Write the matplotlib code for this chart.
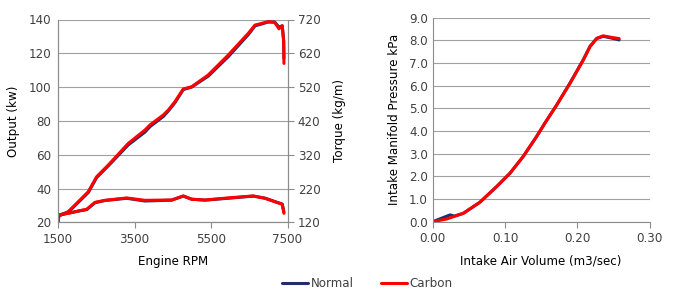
import matplotlib.pyplot as plt
import numpy as np

plt.rcParams['font.family'] = 'DejaVu Sans'
plt.rcParams['font.size'] = 8.6
plt.rcParams['text.color'] = '#404040'
plt.rcParams['xtick.color'] = '#404040'
plt.rcParams['ytick.color'] = '#404040'

# engine dyno data (left chart)
rpm = [1500, 1526, 1770, 2031, 2292, 2511, 2815, 3338, 3774, 3905, 4253, 4383, 4558,
       4775, 4995, 5429, 5952, 6474, 6650, 6997, 7164, 7277, 7363, 7400, 7407]
output_carbon = [20.8, 24.0, 26.3, 32.2, 38.1, 47.0, 53.9, 66.7, 74.6, 77.6, 83.5, 86.4, 91.4,
                 98.9, 100.2, 107.2, 119.0, 131.8, 136.7, 138.7, 138.3, 134.5, 136.3, 126.9, 114.0]
output_normal = [20.8, 23.8, 26.0, 31.8, 37.6, 46.5, 53.4, 65.8, 73.4, 76.6, 82.6, 85.8, 90.8,
                 98.5, 100.0, 106.5, 118.0, 131.0, 136.2, 138.5, 138.5, 135.5, 136.3, 127.5, 117.0]
torque_rpm = [1500, 1508, 1770, 2031, 2250, 2467, 2729, 3296, 3774, 4472, 4775, 4995,
              5343, 6040, 6605, 6911, 7217, 7363, 7407]
torque_carbon = [120, 141.5, 146.5, 153.5, 158.5, 179, 185, 192, 185, 186, 198, 188,
                 186, 193, 198, 191, 179, 173, 146.5]
torque_normal = [120, 142, 147, 153, 157.5, 178, 184.5, 191, 183, 185.5, 197.5, 188.5,
                 185.5, 192, 197.5, 191.5, 179.5, 174, 150]

# intake data (right chart)
air_carbon = [0.0, 0.0194, 0.0424, 0.0654, 0.0885, 0.107, 0.1253, 0.1438, 0.1553,
              0.1716, 0.19, 0.2084, 0.2177, 0.2269, 0.236, 0.2477, 0.258]
map_carbon = [0.0, 0.12, 0.37, 0.86, 1.55, 2.14, 2.88, 3.76, 4.35,
              5.15, 6.1, 7.13, 7.72, 8.09, 8.2, 8.13, 8.08]
air_normal = [0.0, 0.012, 0.024, 0.03, 0.0424, 0.0654, 0.0885, 0.107, 0.1253, 0.1438, 0.1553,
              0.1716, 0.19, 0.2084, 0.2177, 0.2269, 0.236, 0.2477, 0.258]
map_normal = [0.0, 0.15, 0.3, 0.25, 0.37, 0.86, 1.55, 2.14, 2.88, 3.76, 4.35,
              5.15, 6.12, 7.15, 7.74, 8.08, 8.18, 8.1, 8.02]

c_normal = '#1f2f6e'
c_carbon = '#ff0000'
c_grid = '#a0a0a0'
c_spine = '#8c8c8c'
lw = 2.2

fig = plt.figure(figsize=(6.8, 3.0), dpi=100)

# left chart
ax = fig.add_axes([58 / 680, 1 - 222.3 / 300, 229.5 / 680, 202.8 / 300])
ax.plot(rpm, output_normal, color=c_normal, lw=lw, solid_capstyle='round', solid_joinstyle='round')
ax.plot(rpm, output_carbon, color=c_carbon, lw=lw, solid_capstyle='round', solid_joinstyle='round')
ax.set_xlim(1500, 7500)
ax.set_ylim(20, 140)
ax.set_xticks([1500, 3500, 5500, 7500])
ax.set_yticks(np.arange(20, 141, 20))
ax.grid(axis='y', color=c_grid, lw=0.8)
ax.set_axisbelow(True)
ax.set_xlabel('Engine RPM', labelpad=7)
ax.set_ylabel('Output (kw)', labelpad=6)
ax.spines['top'].set_visible(False)
ax.tick_params(axis='x', length=4, color=c_spine, width=0.8)
ax.tick_params(axis='y', length=0, pad=5)

ax2 = ax.twinx()
ax2.plot(torque_rpm, torque_normal, color=c_normal, lw=lw, solid_capstyle='round', solid_joinstyle='round')
ax2.plot(torque_rpm, torque_carbon, color=c_carbon, lw=lw, solid_capstyle='round', solid_joinstyle='round')
ax2.set_ylim(120, 720)
ax2.set_yticks(np.arange(120, 721, 100))
ax2.set_ylabel('Torque (kg/m)', labelpad=9)
ax2.spines['top'].set_visible(False)
ax2.tick_params(length=4, color=c_spine, width=0.8)
for a in (ax, ax2):
    for s in a.spines.values():
        s.set_color(c_spine)
        s.set_linewidth(0.8)

# right chart
bx = fig.add_axes([432.7 / 680, 1 - 221.7 / 300, 216.8 / 680, 204 / 300])
l1, = bx.plot(air_normal, map_normal, color=c_normal, lw=lw, solid_capstyle='round',
              solid_joinstyle='round', label='Normal')
l2, = bx.plot(air_carbon, map_carbon, color=c_carbon, lw=lw, solid_capstyle='round',
              solid_joinstyle='round', label='Carbon')
bx.set_xlim(0, 0.30)
bx.set_ylim(0, 9)
bx.set_xticks([0, 0.1, 0.2, 0.3])
bx.set_xticklabels(['0.00', '0.10', '0.20', '0.30'])
bx.set_yticks(np.arange(0, 9.1, 1))
bx.set_yticklabels(['%.1f' % v for v in np.arange(0, 9.1, 1)])
bx.grid(axis='y', color=c_grid, lw=0.8)
bx.set_axisbelow(True)
bx.set_xlabel('Intake Air Volume (m3/sec)', labelpad=7)
bx.set_ylabel('Intake Manifold Pressure kPa', labelpad=6)
bx.spines['top'].set_visible(False)
bx.spines['right'].set_visible(False)
bx.tick_params(axis='x', length=4, color=c_spine, width=0.8)
bx.tick_params(axis='y', length=0, color=c_spine)
for s in bx.spines.values():
    s.set_color(c_spine)
    s.set_linewidth(0.8)

fig.legend(handles=[l1, l2], loc='center', bbox_to_anchor=(0.54, 0.055), ncol=2,
           frameon=False, handlelength=2.2, handletextpad=0.2, columnspacing=2.3,
           fontsize=8.6)

fig.savefig('out.png', dpi=100)
